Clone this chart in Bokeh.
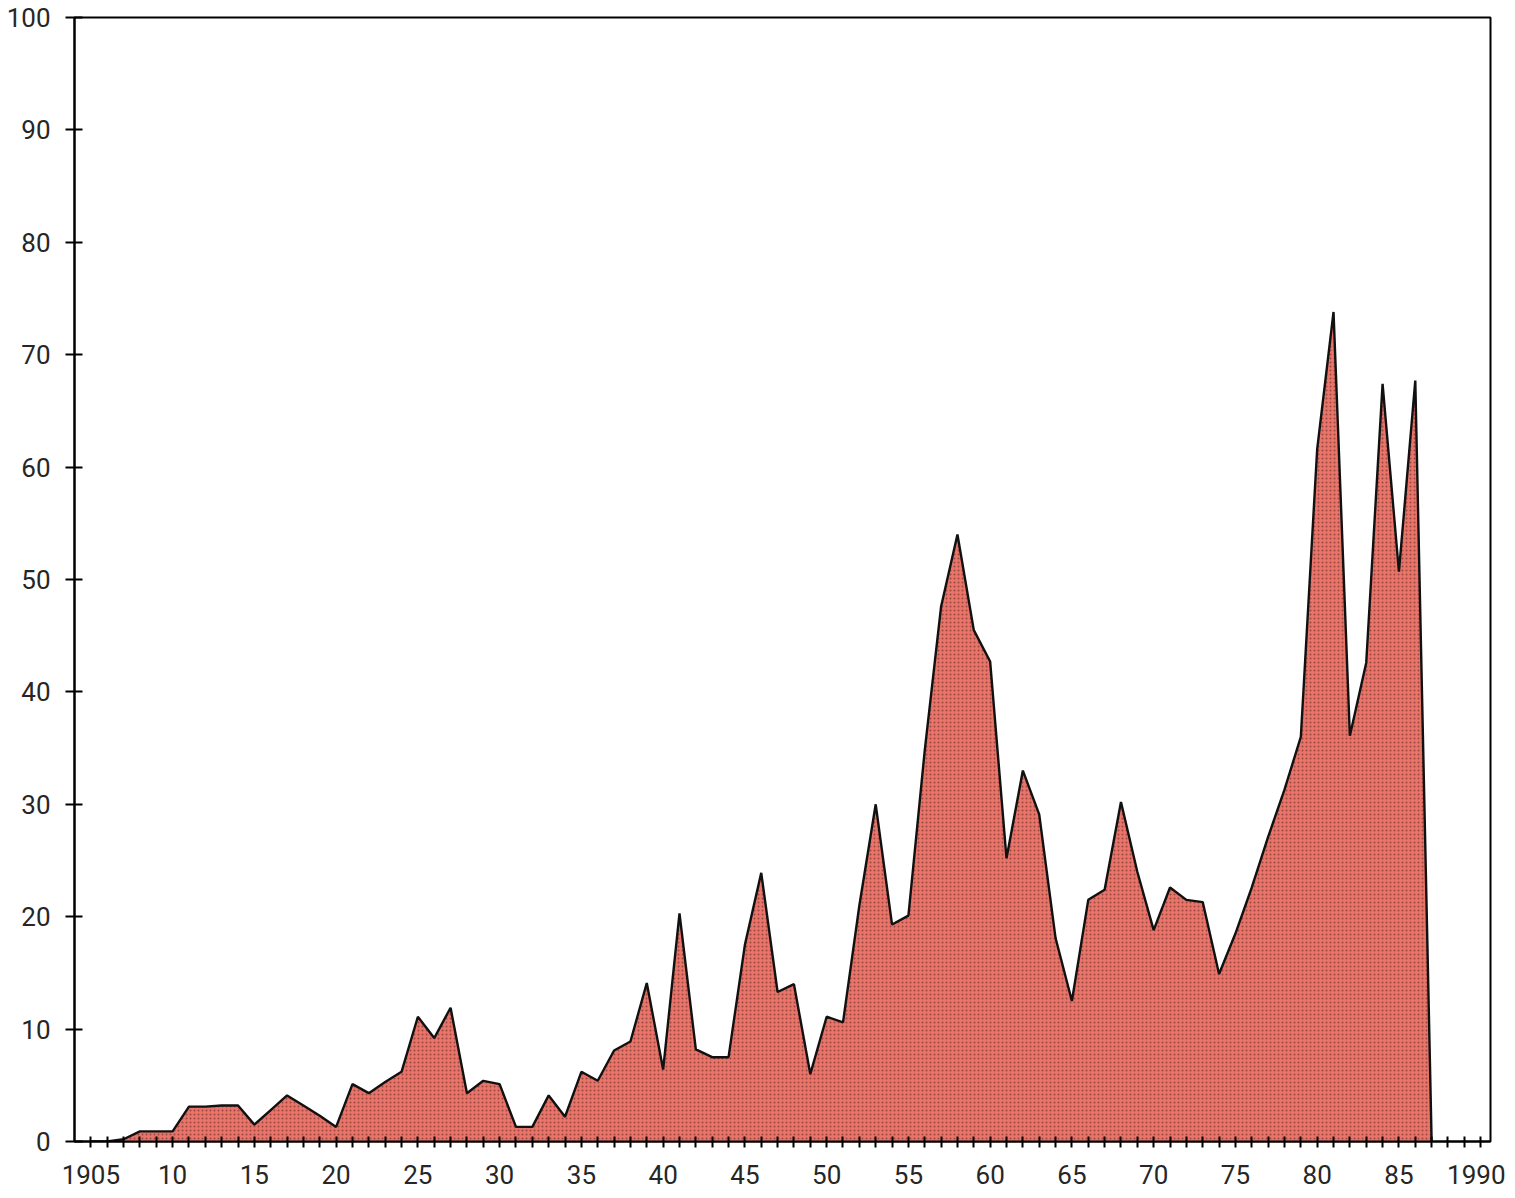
from bokeh.plotting import figure
from bokeh.models import Range1d, FixedTicker
from bokeh.embed import file_html
from bokeh.resources import INLINE

# Annual values (1905-1987)
years = list(range(1905, 1988))
values = [
    0, 0, 0.2, 0.9, 0.9, 0.9, 3.1, 3.1, 3.2, 3.2,            # 1905-1914
    1.5, 2.8, 4.1, 3.2, 2.3, 1.3, 5.1, 4.3, 5.3, 6.2,        # 1915-1924
    11.1, 9.2, 11.9, 4.3, 5.4, 5.1, 1.3, 1.3, 4.1, 2.2,      # 1925-1934
    6.2, 5.4, 8.1, 8.9, 14.1, 6.4, 20.3, 8.2, 7.5, 7.5,      # 1935-1944
    17.5, 23.9, 13.3, 14.0, 6.0, 11.1, 10.6, 21.0, 30.0, 19.3,  # 1945-1954
    20.1, 34.8, 47.6, 54.0, 45.5, 42.7, 25.2, 33.0, 29.1, 18.1,  # 1955-1964
    12.5, 21.5, 22.4, 30.2, 24.0, 18.8, 22.6, 21.5, 21.3, 14.9,  # 1965-1974
    18.5, 22.6, 27.1, 31.3, 36.0, 61.6, 73.8, 36.1, 42.6, 67.4,  # 1975-1984
    50.7, 67.7, 0,                                           # 1985-1987
]

x_ticks = list(range(1905, 1991))
x_label_years = list(range(1905, 1991, 5))
x_label_texts = ["1905", "10", "15", "20", "25", "30", "35", "40", "45",
                 "50", "55", "60", "65", "70", "75", "80", "85", "1990"]
y_ticks = list(range(0, 101, 10))

FONT = "Roboto"
TEXT_COLOR = "#262626"

p = figure(width=1505, height=1196, output_backend="svg", toolbar_location=None,
           x_range=Range1d(1904.0, 1990.6), y_range=Range1d(0, 100),
           min_border_left=74, min_border_right=15, min_border_top=17,
           min_border_bottom=55)

p.background_fill_color = "white"
p.border_fill_color = "white"
p.outline_line_color = "black"
p.outline_line_width = 2
p.grid.visible = False

p.varea(x=years, y1=[0] * len(years), y2=values,
        fill_color="#e8746a", fill_alpha=1.0,
        hatch_pattern="dot", hatch_color="#3a1410", hatch_alpha=0.45,
        hatch_scale=4, hatch_weight=1)
p.line(x=years, y=values, line_color="#111111", line_width=2.4)

overrides = {}
for t in x_ticks:
    overrides[t] = ""
for t, s in zip(x_label_years, x_label_texts):
    overrides[t] = s

xa = p.xaxis[0]
xa.ticker = FixedTicker(ticks=x_ticks, minor_ticks=[])
xa.major_label_overrides = overrides
xa.axis_line_color = "black"
xa.axis_line_width = 2
xa.major_tick_line_color = "black"
xa.major_tick_line_width = 2
xa.major_tick_in = 5
xa.major_tick_out = 6
xa.minor_tick_line_color = None
xa.major_label_text_font = FONT
xa.major_label_text_font_size = "26px"
xa.major_label_text_color = TEXT_COLOR
xa.major_label_standoff = 17

ya = p.yaxis[0]
ya.ticker = FixedTicker(ticks=y_ticks, minor_ticks=[])
ya.axis_line_color = "black"
ya.axis_line_width = 2
ya.major_tick_line_color = "black"
ya.major_tick_line_width = 2
ya.major_tick_in = 8
ya.major_tick_out = 9
ya.minor_tick_line_color = None
ya.major_label_text_font = FONT
ya.major_label_text_font_size = "26px"
ya.major_label_text_color = TEXT_COLOR
ya.major_label_standoff = 15

open("out.html", "w").write(file_html(p, INLINE))
